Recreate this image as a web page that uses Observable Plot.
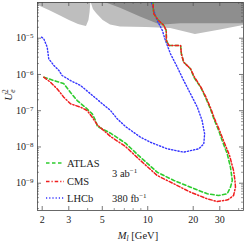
<!DOCTYPE html>
<html><head><meta charset="utf-8">
<script src="https://cdn.jsdelivr.net/npm/d3@7"></script>
<script src="https://cdn.jsdelivr.net/npm/@observablehq/plot@0.6"></script>
<style>
body{margin:0;background:#fff;}
#chart svg{font-family:"Liberation Serif","DejaVu Serif",serif;}
</style></head><body><div id="chart"></div>
<script>
// ---- data ----
const atlasMass = [2.05,2.39,2.77,3.08,3.41,3.87,4.29,4.51,4.65,5.67,7.12,8.95,11.55,14.9,19.2,24.8,29.5,33.6,35.3,36.3,35.3,33.6,31.1,29.5,27.4,26.0,24.1,22.4,20.2,19.2,17.3,16.7,16.5,13.8,13.3,13.25,12.8,11.8,10.97,10.87,10.85];
const atlasU2 = [8.4e-7,6.8e-7,5.63e-7,3.18e-7,1.91e-7,1.23e-7,8.2e-8,5.37e-8,3.66e-8,2.4e-8,1.27e-8,5.2e-9,2.01e-9,1.19e-9,7.76e-10,5.1e-10,4.58e-10,5.1e-10,7.76e-10,1.19e-9,2.77e-9,6.5e-9,1.51e-8,2.84e-8,5.98e-8,1.13e-7,2.36e-7,4.45e-7,8.4e-7,1.43e-6,2.18e-6,3.71e-6,6.3e-6,6.3e-6,8.6e-6,1.63e-5,2.24e-5,3.08e-5,4.7e-5,7.2e-5,9.5e-5];
const cmsMass = [2.05,2.27,2.51,2.78,3.08,3.59,3.97,4.29,4.63,5.67,7.12,8.95,11.55,14.9,19.2,24.8,28.8,33.9,37.0,38.1,37.8,37.0,34.8,31.7,29.9,27.7,26.2,24.3,22.5,20.4,19.2,17.3,16.7,16.5,13.8,13.3,13.25,12.8,11.8,10.97,10.87,10.85];
const cmsU2 = [8.4e-7,6.1e-7,4.02e-7,2.36e-7,1.55e-7,1.25e-7,1.01e-7,6.6e-8,4.08e-8,1.94e-8,1.03e-8,4.23e-9,1.63e-9,9.6e-10,5.65e-10,3.71e-10,3.13e-10,3.48e-10,4.58e-10,7.76e-10,1.19e-9,2.24e-9,5.8e-9,1.51e-8,2.84e-8,5.98e-8,1.13e-7,2.36e-7,4.45e-7,8.4e-7,1.43e-6,2.18e-6,3.71e-6,6.3e-6,6.3e-6,8.6e-6,1.63e-5,2.24e-5,3.08e-5,4.7e-5,7.2e-5,9.5e-5];
const lhcbMass = [1.98,2.05,2.16,2.21,2.39,2.58,2.71,3.08,3.59,4.18,4.87,5.67,6.28,7.12,8.95,10.4,13.45,17.3,21.8,23.5,23.8,22.9,21.3,19.2,17.3,15.7,14.15,13.1,12.5,11.55,10.97,10.6];
const lhcbU2 = [1.07e-5,9.6e-6,5.65e-6,2.7e-6,1.77e-6,1.29e-6,9.35e-7,6.8e-7,4.95e-7,2.92e-7,1.71e-7,1.01e-7,5.98e-8,3.66e-8,1.86e-8,1.35e-8,8.9e-9,7.2e-9,8.9e-9,1.22e-8,2.3e-8,5.37e-8,1.25e-7,2.92e-7,6.8e-7,1.58e-6,3.71e-6,8.6e-6,1.63e-5,3.08e-5,5.8e-5,9.5e-5];
// excluded regions (lower boundaries; filled up to the top of the frame)
const lightMass = [1.85,1.88,2.23,2.645,3.03,3.48,3.74,3.93,4.08,4.15,4.20,4.22,4.37,4.58,5.07,5.67,6.6,9.81,14.2,20.7,30.3,43.1];
const lightU2 = [9.0e-5,7.98e-5,5.8e-5,4.1e-5,3.08e-5,2.39e-5,2.2e-5,2.1e-5,3.08e-5,5.1e-5,9.6e-5,9.6e-5,6.2e-5,4.8e-5,3.08e-5,2.31e-5,2.04e-5,1.97e-5,1.85e-5,1.26e-5,1.68e-5,2.24e-5];
const darkMass = [5.1,6.6,8.95,12.1,12.8,16.5,43.1];
const darkU2 = [1.0e-4,6.7e-5,3.87e-5,2.31e-5,2.3e-5,2.5e-5,2.5e-5];
const topU2 = 1.2e-4;
const xTicks = [2,3,5,10,20,30];
const xMinor = [4,6,7,8,9,40];
const yTicks = [1e-9,1e-8,1e-7,1e-6,1e-5];
const yMinor = [];
for (let e = -10; e <= -5; e++) for (let k = 2; k <= 9; k++) yMinor.push(k * Math.pow(10, e));
const legendNames = ["ATLAS","CMS","LHCb"];
const lumiLabels = ["3 ab", "380 fb"];

const zipXY = (xs, ys) => xs.map((x, i) => ({m: x, u: ys[i]}));
const atlas = zipXY(atlasMass, atlasU2);
const cms = zipXY(cmsMass, cmsU2);
const lhcb = zipXY(lhcbMass, lhcbU2);
const light = zipXY(lightMass, lightU2);
const dark = zipXY(darkMass, darkU2);

const W = 249, H = 242, mL = 37, mR = 6, mT = 2, mB = 32;
const fw = W - mL - mR, fh = H - mT - mB;
const green = "#2ecc2e", red = "#f01e1e", blue = "#3535ff";
const dashA = "3.5,2.5", dashC = "3.5,2,1.2,2", dashL = "1.2,2";
const tickCol = "#555";

const yMinorIn = yMinor.filter(v => v > 1.766e-10 && v < 9.66e-5);

const svg = Plot.plot({
  width: W, height: H,
  marginLeft: mL, marginRight: mR, marginTop: mT, marginBottom: mB,
  style: {fontFamily: "Liberation Serif, DejaVu Serif, serif", fontSize: "10px", background: "white", color: "#222"},
  x: {type: "log", domain: [1.862, 43.06]},
  y: {type: "log", domain: [1.766e-10, 9.66e-5]},
  marks: [
    Plot.areaY(light, {x: "m", y1: "u", y2: () => topU2, fill: "#bebebe", clip: true}),
    Plot.areaY(dark, {x: "m", y1: "u", y2: () => topU2, fill: "#8e8e8e", clip: true}),
    Plot.line(lhcb, {x: "m", y: "u", stroke: blue, strokeWidth: 1.4, strokeDasharray: dashL, clip: true}),
    Plot.line(atlas, {x: "m", y: "u", stroke: green, strokeWidth: 1.6, strokeDasharray: dashA, clip: true}),
    Plot.line(cms, {x: "m", y: "u", stroke: red, strokeWidth: 1.5, strokeDasharray: dashC, clip: true}),
    // inward frame ticks
    Plot.tickX(xTicks, {x: d => d, insetTop: fh - 4, stroke: tickCol, strokeWidth: 0.8}),
    Plot.tickX(xTicks, {x: d => d, insetBottom: fh - 4, stroke: tickCol, strokeWidth: 0.8}),
    Plot.tickX(xMinor, {x: d => d, insetTop: fh - 2, stroke: tickCol, strokeWidth: 0.6}),
    Plot.tickX(xMinor, {x: d => d, insetBottom: fh - 2, stroke: tickCol, strokeWidth: 0.6}),
    Plot.tickY(yTicks, {y: d => d, insetRight: fw - 4, stroke: tickCol, strokeWidth: 0.8}),
    Plot.tickY(yTicks, {y: d => d, insetLeft: fw - 4, stroke: tickCol, strokeWidth: 0.8}),
    Plot.tickY(yMinorIn, {y: d => d, insetRight: fw - 2, stroke: tickCol, strokeWidth: 0.6}),
    Plot.tickY(yMinorIn, {y: d => d, insetLeft: fw - 2, stroke: tickCol, strokeWidth: 0.6}),
    Plot.frame({stroke: "#444", strokeWidth: 0.8}),
    Plot.axisX({ticks: xTicks, tickSize: 0, tickPadding: 5, tickFormat: d => String(d), label: null}),
    Plot.axisY({ticks: yTicks, tickSize: 0, tickPadding: 4, tickFormat: d => "10^" + Math.round(Math.log10(d)), label: null})
  ]
});

const s = d3.select(svg);
// superscript exponents on y tick labels
s.selectAll('g[aria-label="y-axis tick label"] text').each(function() {
  const t = d3.select(this);
  const parts = t.text().split("^");
  if (parts.length !== 2) return;
  t.text(null);
  t.append("tspan").text(parts[0]);
  t.append("tspan").attr("dy", "-0.45em").attr("font-size", "7px").text(parts[1].replace("-", "\u2212"));
});

const ff = "Liberation Serif, DejaVu Serif, serif";
// x axis label
const xl = s.append("text").attr("x", mL + fw / 2 - 2).attr("y", 238.5).attr("text-anchor", "middle")
  .attr("font-family", ff).attr("font-size", "10.5px").attr("fill", "#222");
xl.append("tspan").attr("font-style", "italic").text("M");
xl.append("tspan").attr("font-style", "italic").attr("font-size", "7.5px").attr("dy", "2").text("l");
xl.append("tspan").attr("dy", "-2").text(" [GeV]");
// y axis label
const yl = s.append("text").attr("transform", "translate(12,95) rotate(-90)").attr("text-anchor", "middle")
  .attr("font-family", ff).attr("font-size", "11px").attr("fill", "#222");
yl.append("tspan").attr("font-style", "italic").text("U");
yl.append("tspan").attr("font-style", "italic").attr("font-size", "7.5px").attr("dy", "2.5").text("e");
yl.append("tspan").attr("font-size", "7.5px").attr("dx", "-3.6").attr("dy", "-7").text("2");

// legend
const rows = [163, 181.5, 198];
const styles = [[green, dashA], [red, dashC], [blue, dashL]];
legendNames.forEach((name, i) => {
  s.append("line").attr("x1", 46).attr("x2", 64).attr("y1", rows[i]).attr("y2", rows[i])
    .attr("stroke", styles[i][0]).attr("stroke-width", 1.6).attr("stroke-dasharray", styles[i][1]);
  s.append("text").attr("x", 67).attr("y", rows[i] + 3.5).attr("text-anchor", "start").attr("font-family", ff).attr("font-size", "10.5px")
    .attr("fill", "#222").text(name);
});
const lumiY = [176.5, 201.5];
lumiLabels.forEach((lab, i) => {
  const t = s.append("text").attr("x", 112).attr("y", lumiY[i]).attr("text-anchor", "start").attr("font-family", ff).attr("font-size", "10.5px").attr("fill", "#222");
  t.append("tspan").text(lab);
  t.append("tspan").attr("dy", "-4").attr("font-size", "7px").text("\u22121");
});

document.getElementById("chart").appendChild(svg);
</script>
</body></html>
